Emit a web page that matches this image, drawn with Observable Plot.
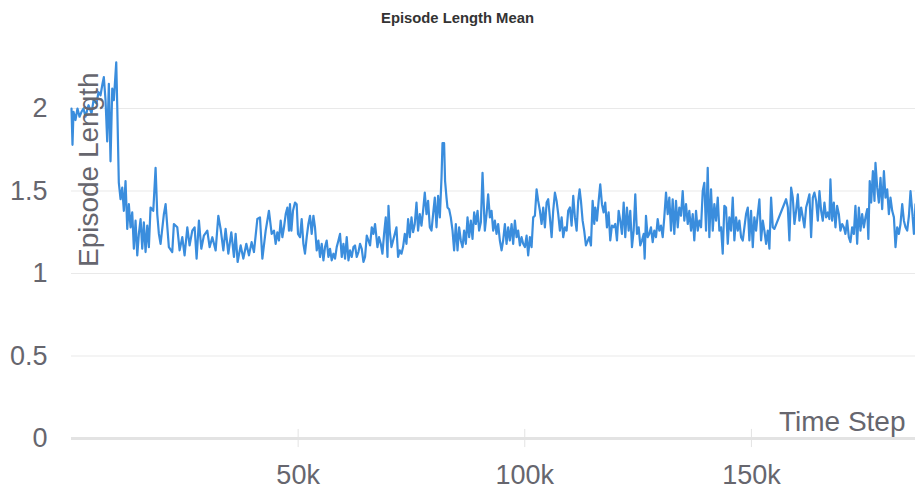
<!DOCTYPE html>
<html>
<head>
<meta charset="utf-8">
<script src="https://cdn.jsdelivr.net/npm/d3@7"></script>
<script src="https://cdn.jsdelivr.net/npm/@observablehq/plot@0.6"></script>
<style>
  html, body { margin: 0; padding: 0; background: #fff; }
  #title { height: 36px; line-height: 36px; text-align: center; font-family: "Liberation Sans", Arial, sans-serif; font-weight: bold; font-size: 14.8px; color: #333; }
</style>
</head>
<body>
<div id="title">Episode Length Mean</div>
<div id="chart"></div>
<script>
const chartTitle = "Episode Length Mean";
const xLabel = "Time Step";
const yLabel = "Episode Length";
const xTicks = [50000, 100000, 150000];
const yTicks = [0, 0.5, 1, 1.5, 2];
const gridValues = [0.5, 1, 1.5, 2];

// time step (thousands)
const stepsK = [
  0, 0.22, 0.44, 0.88, 1.32, 1.77, 2.21, 2.65, 3.09, 3.75,
  4.42, 4.86, 5.52, 5.96, 6.40, 6.84, 7.13, 7.51, 7.88, 8.24,
  8.61, 8.99, 9.34, 9.87, 10.09, 10.44, 10.82, 11.19, 11.55, 11.92,
  12.30, 12.65, 13.03, 13.40, 13.76, 14.13, 14.51, 14.86, 15.24, 15.61,
  15.96, 16.34, 16.71, 17.07, 17.44, 18.04, 18.55, 18.92, 19.28, 19.65,
  20.38, 20.76, 21.48, 22.23, 22.59, 23.34, 23.85, 24.44, 24.95, 25.55,
  26.05, 26.65, 27.16, 27.60, 28.11, 28.64, 29.21, 29.96, 30.47, 31.07,
  31.80, 32.39, 32.90, 33.50, 34.00, 34.60, 35.26, 35.84, 36.21, 36.65,
  37.32, 37.91, 38.57, 39.15, 39.74, 40.25, 41.00, 41.58, 42.11, 42.84,
  43.56, 44.16, 44.67, 45.04, 45.42, 45.77, 46.15, 46.52, 46.88, 47.26,
  47.63, 47.98, 48.20, 48.51, 48.86, 49.31, 49.68, 49.97, 50.41, 50.78,
  51.16, 51.51, 51.89, 52.26, 52.62, 52.99, 53.37, 53.72, 54.10, 54.47,
  54.83, 55.20, 55.58, 55.93, 56.30, 56.68, 57.03, 57.41, 57.78, 58.14,
  58.51, 58.89, 59.24, 59.62, 59.99, 60.35, 60.72, 61.10, 61.45, 61.82,
  62.20, 62.55, 62.93, 63.30, 63.66, 64.03, 64.41, 64.76, 65.14, 65.51,
  65.87, 66.24, 66.62, 66.97, 67.50, 67.85, 68.23, 68.60, 68.96, 69.33,
  69.71, 69.93, 70.21, 70.59, 70.95, 71.32, 71.69, 72.05, 72.42, 72.80,
  73.15, 73.53, 73.90, 74.26, 74.63, 75.01, 75.36, 75.73, 76.11, 76.46,
  76.84, 77.21, 77.57, 77.94, 78.32, 78.67, 79.05, 79.42, 79.78, 80.15,
  80.53, 80.88, 81.26, 81.63, 81.85, 82.20, 82.42, 82.73, 82.95, 83.31,
  83.68, 84.06, 84.41, 84.79, 85.16, 85.52, 85.89, 86.27, 86.62, 87.00,
  87.37, 87.73, 88.10, 88.47, 88.83, 89.20, 89.58, 89.93, 90.31, 90.68,
  91.04, 91.19, 91.57, 91.92, 92.30, 92.67, 93.03, 93.40, 93.77, 94.13,
  94.50, 94.88, 95.23, 95.61, 95.98, 96.34, 96.71, 97.09, 97.44, 97.82,
  98.19, 98.54, 98.92, 99.29, 99.65, 100.03, 100.40, 100.75, 101.13, 101.50,
  101.86, 102.23, 102.61, 102.96, 103.34, 103.71, 104.07, 104.44, 104.82, 105.17,
  105.54, 105.92, 106.27, 106.65, 107.02, 107.38, 107.75, 108.13, 108.48, 108.86,
  109.23, 109.58, 109.96, 110.33, 110.69, 111.06, 111.44, 111.79, 112.10, 112.39,
  112.76, 113.11, 113.49, 114.22, 114.60, 114.97, 115.33, 115.55, 115.92, 116.30,
  116.65, 117.03, 117.40, 117.75, 118.13, 118.50, 118.86, 119.23, 119.61, 119.96,
  120.34, 120.71, 121.07, 121.44, 121.82, 122.17, 122.54, 122.92, 123.27, 123.65,
  124.02, 124.38, 124.75, 125.13, 125.48, 125.86, 126.23, 126.45, 126.74, 127.11,
  127.47, 127.84, 128.22, 128.57, 128.95, 129.32, 129.68, 130.05, 130.43, 130.78,
  131.16, 131.53, 131.89, 132.26, 132.63, 132.99, 133.36, 133.74, 134.09, 134.47,
  134.84, 135.20, 135.57, 135.95, 136.30, 136.68, 137.05, 137.40, 137.78, 138.16,
  138.51, 138.89, 139.26, 139.61, 139.99, 140.36, 140.72, 141.09, 141.47, 141.82,
  142.20, 142.57, 142.93, 143.30, 143.67, 144.03, 144.40, 144.78, 145.13, 145.51,
  145.88, 146.24, 146.61, 146.99, 147.34, 147.72, 148.09, 148.45, 148.82, 149.20,
  149.55, 149.92, 150.30, 150.65, 151.03, 151.40, 151.76, 152.13, 152.51, 152.86,
  153.24, 153.61, 153.97, 154.34, 154.71, 155.07, 157.65, 158.03, 158.38, 158.76,
  159.13, 159.49, 159.86, 160.24, 160.59, 160.97, 161.34, 161.69, 162.07, 162.45,
  162.80, 163.17, 163.55, 163.90, 164.28, 164.65, 165.01, 165.38, 165.75, 166.11,
  166.48, 166.86, 167.21, 167.43, 167.81, 168.18, 168.54, 168.91, 169.29, 169.64,
  170.02, 170.39, 170.74, 171.12, 171.49, 171.85, 172.22, 172.60, 172.95, 173.33,
  173.70, 174.06, 174.43, 174.81, 175.16, 175.54, 175.80, 176.10, 176.42, 176.80,
  177.15, 177.37, 177.75, 178.12, 178.48, 178.85, 179.23, 179.58, 179.96, 180.33,
  180.68, 181.06, 181.44, 181.79, 182.16, 182.54, 182.89, 183.27, 183.64, 184.00,
  184.37, 184.75, 185.10, 185.47, 185.85, 186.20
];

// episode length mean
const lengthMean = [
  2.00, 1.78, 1.98, 1.93, 2.00, 1.95, 1.98, 2.00, 1.95, 2.02,
  1.97, 2.05, 2.03, 2.10, 2.08, 2.15, 2.19, 2.05, 1.80, 2.15,
  1.68, 2.12, 2.05, 2.28, 2.02, 1.55, 1.45, 1.52, 1.38, 1.56,
  1.27, 1.42, 1.28, 1.37, 1.15, 1.32, 1.11, 1.24, 1.33, 1.15,
  1.31, 1.13, 1.29, 1.16, 1.40, 1.38, 1.64, 1.36, 1.24, 1.18,
  1.36, 1.42, 1.16, 1.13, 1.30, 1.28, 1.14, 1.22, 1.11, 1.28,
  1.17, 1.26, 1.28, 1.09, 1.32, 1.15, 1.23, 1.26, 1.16, 1.22,
  1.14, 1.35, 1.27, 1.14, 1.27, 1.12, 1.25, 1.10, 1.24, 1.07,
  1.17, 1.09, 1.18, 1.11, 1.19, 1.13, 1.33, 1.34, 1.09, 1.26,
  1.38, 1.24, 1.26, 1.18, 1.25, 1.20, 1.32, 1.22, 1.28, 1.36,
  1.40, 1.26, 1.42, 1.26, 1.38, 1.43, 1.42, 1.24, 1.22, 1.33,
  1.18, 1.12, 1.22, 1.30, 1.35, 1.24, 1.35, 1.28, 1.14, 1.20,
  1.10, 1.18, 1.08, 1.16, 1.20, 1.10, 1.15, 1.08, 1.12, 1.09,
  1.16, 1.20, 1.24, 1.10, 1.18, 1.09, 1.22, 1.08, 1.14, 1.10,
  1.16, 1.17, 1.10, 1.13, 1.18, 1.15, 1.07, 1.10, 1.23, 1.20,
  1.17, 1.28, 1.24, 1.30, 1.16, 1.22, 1.18, 1.12, 1.24, 1.34,
  1.10, 1.41, 1.26, 1.16, 1.20, 1.24, 1.28, 1.10, 1.14, 1.12,
  1.16, 1.24, 1.18, 1.33, 1.22, 1.34, 1.25, 1.30, 1.43, 1.26,
  1.36, 1.29, 1.38, 1.49, 1.36, 1.44, 1.28, 1.26, 1.36, 1.46,
  1.28, 1.47, 1.34, 1.58, 1.79, 1.79, 1.56, 1.46, 1.40, 1.39,
  1.34, 1.26, 1.14, 1.30, 1.14, 1.28, 1.20, 1.16, 1.26, 1.18,
  1.34, 1.22, 1.32, 1.21, 1.37, 1.30, 1.38, 1.26, 1.31, 1.61,
  1.36, 1.26, 1.36, 1.48, 1.34, 1.38, 1.26, 1.32, 1.24, 1.30,
  1.20, 1.14, 1.20, 1.30, 1.18, 1.28, 1.20, 1.30, 1.18, 1.32,
  1.22, 1.26, 1.17, 1.22, 1.18, 1.16, 1.23, 1.11, 1.22, 1.16,
  1.34, 1.35, 1.51, 1.44, 1.38, 1.30, 1.40, 1.28, 1.43, 1.45,
  1.34, 1.22, 1.38, 1.49, 1.44, 1.36, 1.26, 1.34, 1.22, 1.28,
  1.26, 1.38, 1.40, 1.29, 1.47, 1.34, 1.26, 1.44, 1.51, 1.44,
  1.32, 1.26, 1.17, 1.22, 1.17, 1.44, 1.30, 1.40, 1.32, 1.44,
  1.54, 1.42, 1.37, 1.43, 1.28, 1.37, 1.20, 1.29, 1.28, 1.30,
  1.20, 1.38, 1.32, 1.24, 1.43, 1.22, 1.40, 1.26, 1.38, 1.16,
  1.26, 1.48, 1.24, 1.28, 1.17, 1.20, 1.24, 1.09, 1.35, 1.22,
  1.24, 1.28, 1.19, 1.26, 1.22, 1.33, 1.26, 1.29, 1.22, 1.34,
  1.49, 1.36, 1.46, 1.26, 1.45, 1.24, 1.44, 1.28, 1.40, 1.35,
  1.50, 1.32, 1.42, 1.30, 1.38, 1.26, 1.36, 1.20, 1.38, 1.26,
  1.32, 1.28, 1.50, 1.55, 1.26, 1.64, 1.22, 1.51, 1.26, 1.42,
  1.32, 1.46, 1.26, 1.28, 1.12, 1.41, 1.40, 1.18, 1.34, 1.26,
  1.46, 1.20, 1.34, 1.26, 1.32, 1.22, 1.20, 1.28, 1.36, 1.40,
  1.20, 1.38, 1.16, 1.34, 1.26, 1.36, 1.45, 1.20, 1.32, 1.26,
  1.18, 1.26, 1.15, 1.46, 1.28, 1.27, 1.45, 1.40, 1.20, 1.52,
  1.46, 1.30, 1.38, 1.48, 1.32, 1.40, 1.34, 1.28, 1.40, 1.44,
  1.48, 1.22, 1.46, 1.49, 1.44, 1.32, 1.50, 1.38, 1.32, 1.43,
  1.34, 1.37, 1.33, 1.57, 1.32, 1.43, 1.28, 1.41, 1.36, 1.26,
  1.30, 1.28, 1.24, 1.32, 1.22, 1.19, 1.28, 1.24, 1.41, 1.18,
  1.40, 1.26, 1.36, 1.28, 1.34, 1.39, 1.21, 1.56, 1.43, 1.62,
  1.44, 1.67, 1.52, 1.43, 1.58, 1.39, 1.62, 1.46, 1.51, 1.36,
  1.46, 1.38, 1.34, 1.16, 1.28, 1.24, 1.30, 1.42, 1.32, 1.28,
  1.26, 1.35, 1.50, 1.38, 1.24, 1.42
];

const n = Math.min(stepsK.length, lengthMean.length);
const series = [];
for (let i = 0; i < n; i++) series.push({step: stepsK[i] * 1000, value: lengthMean[i]});

const labelColor = "#66666e";
const chart = Plot.plot({
  width: 915,
  height: 452,
  marginLeft: 71,
  marginRight: 0,
  marginTop: 22.5,
  marginBottom: 50,
  style: {fontFamily: "'Liberation Sans', Arial, sans-serif", fontSize: "27px", color: labelColor, background: "#fff", overflow: "visible"},
  x: {domain: [0, 186200], ticks: xTicks, tickFormat: d => (d / 1000) + "k", tickSize: 0, tickPadding: 26, label: null},
  y: {domain: [0, 2.3], ticks: yTicks, tickFormat: d => String(d), tickSize: 0, tickPadding: 24, label: null},
  marks: [
    Plot.ruleY(gridValues, {stroke: "#e9e9e9", strokeWidth: 1}),
    Plot.ruleY([0], {stroke: "#e3e3e3", strokeWidth: 3}),
    Plot.ruleX(xTicks, {y1: -0.055, y2: 0.055, stroke: "#e3e3e3", strokeWidth: 1}),
    Plot.line(series, {x: "step", y: "value", stroke: "#3a8ddd", strokeWidth: 2.2, strokeLinejoin: "round"}),
    Plot.text([xLabel], {text: d => d, frameAnchor: "bottom-right", dx: -10, dy: -8, textAnchor: "end", lineAnchor: "bottom", fontSize: 28, fill: labelColor}),
    Plot.text([yLabel], {text: d => d, frameAnchor: "left", rotate: -90, dx: 26, dy: -79, textAnchor: "middle", lineAnchor: "bottom", fontSize: 28, fill: labelColor})
  ]
});
document.getElementById("title").textContent = chartTitle;
document.getElementById("chart").appendChild(chart);
</script>
</body>
</html>
